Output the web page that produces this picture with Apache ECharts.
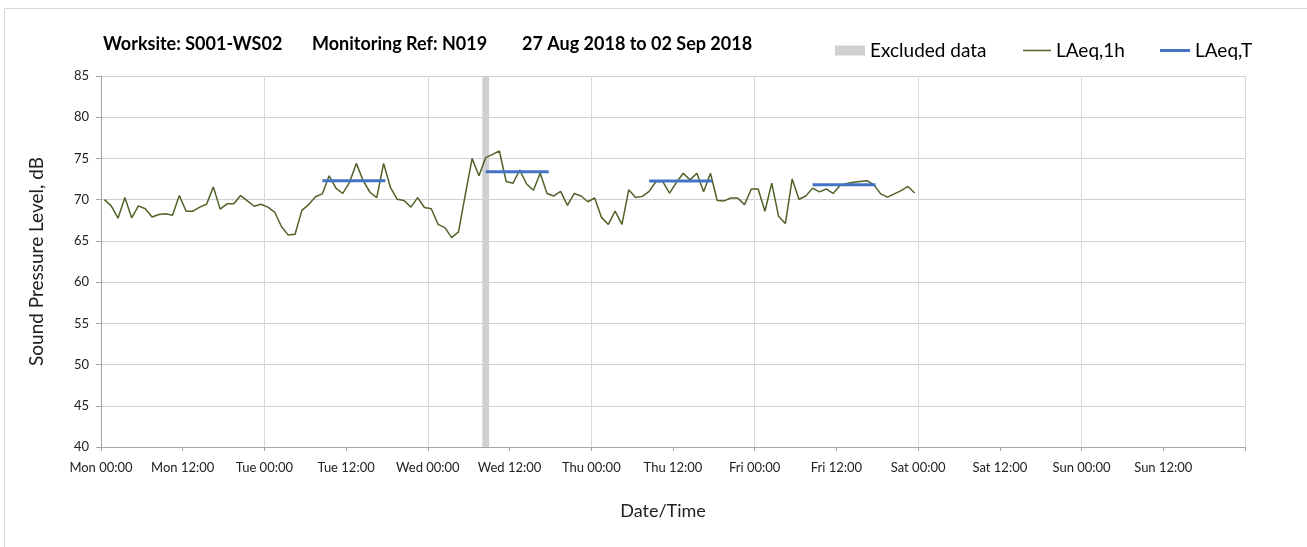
<!DOCTYPE html>
<html><head><meta charset="utf-8">
<script src="https://cdn.jsdelivr.net/npm/echarts@6/dist/echarts.min.js"></script>
<style>html,body{margin:0;padding:0;background:#fff}#c{width:1307px;height:547px}</style>
</head><body><div id="c"></div>
<script>
// ---- data ----
const dayNames = ['Mon', 'Tue', 'Wed', 'Thu', 'Fri', 'Sat', 'Sun'];
const titleParts = ['Worksite: S001-WS02', 'Monitoring Ref: N019', '27 Aug 2018 to 02 Sep 2018'];
// hourly LAeq,1h values, Mon 00:00 .. Fri 23:00 (plotted at mid-hour)
const hourlyLevels = [
  70.0, 69.25, 67.75, 70.25, 67.8, 69.25, 68.9, 67.9, 68.2, 68.3, 68.1, 70.5,
  68.6, 68.6, 69.1, 69.45, 71.55, 68.85, 69.5, 69.5, 70.5, 69.85, 69.2, 69.45,
  69.1, 68.5, 66.75, 65.7, 65.8, 68.7, 69.4, 70.35, 70.7, 72.9, 71.4, 70.75,
  72.1, 74.4, 72.3, 70.9, 70.25, 74.4, 71.5, 70.05, 69.9, 69.1, 70.25, 69.05,
  68.9, 67.0, 66.6, 65.4, 66.1, 70.6, 75.0, 72.9, 75.1, 75.5, 75.9, 72.2,
  72.0, 73.6, 71.9, 71.15, 73.2, 70.75, 70.45, 71.0, 69.3, 70.75, 70.45, 69.75,
  70.2, 67.85, 67.0, 68.6, 67.0, 71.2, 70.25, 70.4, 71.0, 72.2, 72.2, 70.8,
  72.1, 73.2, 72.4, 73.2, 70.95, 73.2, 69.9, 69.85, 70.2, 70.2, 69.4, 71.3,
  71.3, 68.6, 72.0, 68.0, 67.1, 72.5, 70.05, 70.45, 71.4, 70.95, 71.3, 70.75,
  71.7, 71.95, 72.1, 72.2, 72.3, 71.8, 70.7, 70.3, 70.7, 71.1, 71.6, 70.8
];
// LAeq,T periods (hours from Mon 00:00)
const periodStarts = [32.5, 56.5, 80.5, 104.5];
const periodEnds = [41.75, 65.75, 89.75, 113.75];
const periodLevels = [72.3, 73.4, 72.25, 71.8];
// excluded data window (hours from Mon 00:00)
const excludedStart = [56];
const excludedEnd = [57];

// ---- chart ----
const chart = echarts.init(document.getElementById('c'));
const FONT = 'Lato, "Open Sans", sans-serif';
const green = '#4f6228', blue = '#4472c4', grey = '#d0d0d0';

const series = [
  {
    name: 'Excluded data', type: 'line', data: [], color: grey,
    itemStyle: { color: grey },
    markArea: {
      silent: true, itemStyle: { color: grey, opacity: 1 },
      data: excludedStart.map((s, i) => [{ xAxis: s }, { xAxis: excludedEnd[i] }])
    },
    z: 1
  },
  {
    name: 'LAeq,1h', type: 'line', color: green, itemStyle: { color: green },
    data: hourlyLevels.map((v, i) => [i + 0.5, v]),
    showSymbol: false, lineStyle: { color: green, width: 1.5 }, z: 3, animation: false
  }
];
periodLevels.forEach((v, i) => {
  series.push({
    name: 'LAeq,T', type: 'line', color: blue, itemStyle: { color: blue },
    data: [[periodStarts[i], v], [periodEnds[i], v]],
    showSymbol: false, lineStyle: { color: blue, width: 3 }, z: 4, animation: false
  });
});

const titleLefts = [98, 307, 517];
const legendText = { fontFamily: FONT, fontSize: 19, color: '#000' };
chart.setOption({
  animation: false,
  textStyle: { fontFamily: FONT },
  title: titleParts.map((t, i) => ({
    text: t, left: titleLefts[i], top: 30,
    textStyle: { fontFamily: FONT, fontSize: 18, fontWeight: 'bold', color: '#000' }
  })),
  legend: [
    { left: 830, top: 36, itemWidth: 30, itemHeight: 10, data: [{ name: 'Excluded data', icon: 'rect' }], textStyle: legendText },
    { left: 1018, top: 36, itemWidth: 28, itemHeight: 1.5, data: [{ name: 'LAeq,1h', icon: 'rect' }], textStyle: legendText },
    { left: 1155, top: 36, itemWidth: 30, itemHeight: 3, data: [{ name: 'LAeq,T', icon: 'rect' }], textStyle: legendText }
  ],
  graphic: [{
    type: 'rect', shape: { x: 4.5, y: 8.5, width: 1400, height: 1000 },
    style: { fill: 'none', stroke: '#d9d9d9', lineWidth: 1 }, silent: true
  }],
  grid: { left: 101, right: 62, top: 76, bottom: 100 },
  xAxis: [
    {
      type: 'value', min: 0, max: 168, interval: 12,
      name: 'Date/Time', nameLocation: 'middle', nameGap: 55,
      nameTextStyle: { fontFamily: FONT, fontSize: 18, color: '#222', padding: [0, 20, 0, 0] },
      axisLine: { show: true, lineStyle: { color: '#a6a6a6', width: 1 } },
      axisTick: { show: true, length: 4, lineStyle: { color: '#a6a6a6' } },
      axisLabel: {
        fontFamily: FONT, fontSize: 13, color: '#222', margin: 14,
        formatter: function (v) {
          if (v >= 168) return '';
          const d = dayNames[Math.floor(v / 24)];
          const h = v % 24;
          return d + ' ' + (h < 10 ? '0' : '') + h + ':00';
        }
      },
      splitLine: { show: false }
    },
    {
      type: 'value', min: 0, max: 168, interval: 24, position: 'bottom',
      axisLine: { show: false }, axisTick: { show: false }, axisLabel: { show: false },
      splitLine: { show: true, lineStyle: { color: '#d9d9d9', width: 1 } }
    }
  ],
  yAxis: {
    type: 'value', min: 40, max: 85, interval: 5,
    name: 'Sound Pressure Level, dB', nameLocation: 'middle', nameGap: 55,
    nameTextStyle: { fontFamily: FONT, fontSize: 19, color: '#222' },
    axisLine: { show: true, lineStyle: { color: '#a6a6a6', width: 1 } },
    axisTick: { show: true, length: 5, lineStyle: { color: '#a6a6a6' } },
    axisLabel: { fontFamily: FONT, fontSize: 13, color: '#222', margin: 12 },
    splitLine: { show: true, lineStyle: { color: '#d0d0d0', width: 1 } }
  },
  series: series
});
</script>
</body></html>
